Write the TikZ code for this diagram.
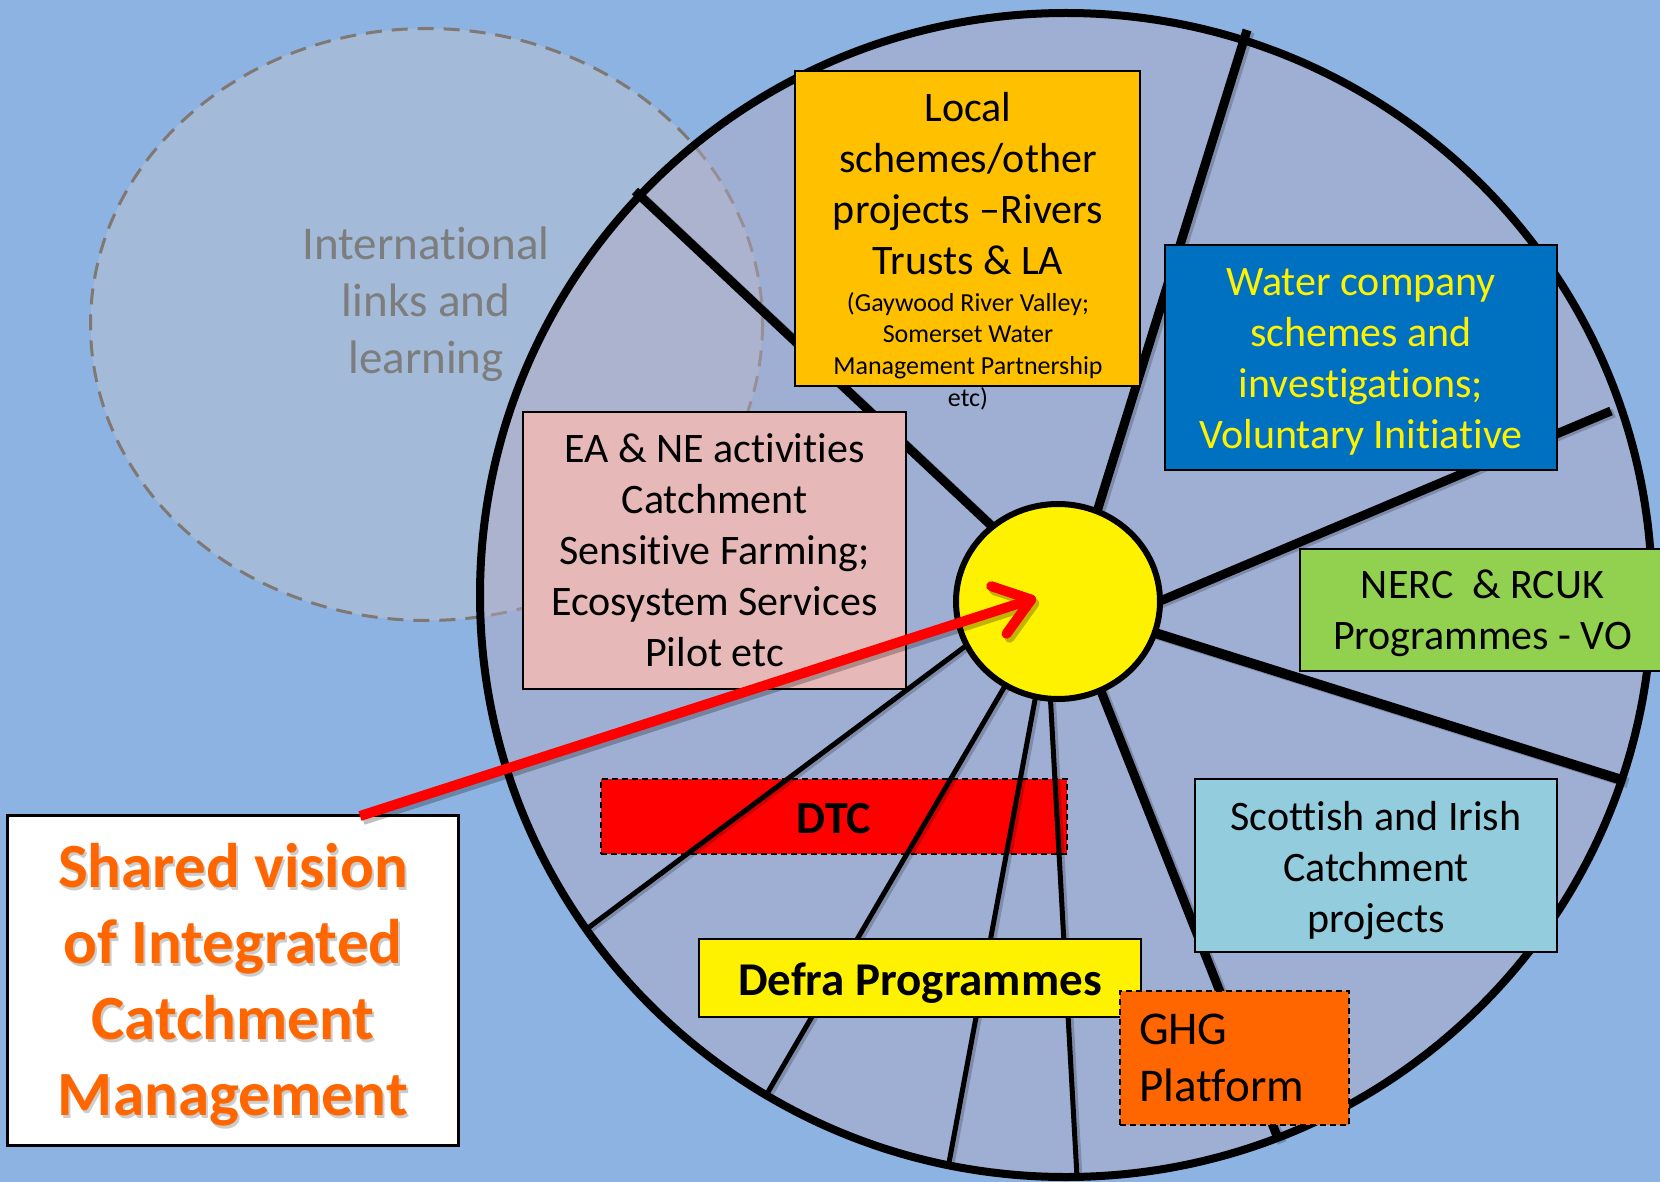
\documentclass[tikz,border=0pt]{standalone}
\usepackage{fontspec}
\setmainfont{Carlito}[Ligatures={TeX,NoCommon}]
\usetikzlibrary{shapes.geometric,arrows.meta,calc}

\definecolor{bgblue}{RGB}{141,179,226}
\definecolor{wheelfill}{RGB}{183,172,195}
\definecolor{intlfill}{RGB}{190,196,208}
\definecolor{intldash}{RGB}{128,120,114}
\definecolor{intltext}{RGB}{125,125,125}
\definecolor{localfill}{RGB}{255,192,0}
\definecolor{waterfill}{RGB}{0,112,192}
\definecolor{eafill}{RGB}{230,185,184}
\definecolor{nercfill}{RGB}{146,208,80}
\definecolor{scotfill}{RGB}{147,205,221}
\definecolor{ghgfill}{RGB}{255,102,0}
\definecolor{visiontext}{RGB}{255,102,0}
\newcommand\tallstrut[1]{\rule{0pt}{#1}}

\begin{document}
\begin{tikzpicture}[x=1pt,y=-1pt,
  box/.style={draw=black, line width=2.5pt, rectangle, inner sep=0pt, align=center},
  dbox/.style={draw=black, line width=2pt, dash pattern=on 6pt off 4pt, rectangle, inner sep=0pt},
  thickspoke/.style={line width=9pt},
  thinspoke/.style={line width=5pt},
  spokeshadow/.style={black, opacity=0.2, transform canvas={shift={(3,2)}}},
  bodytext/.style={font=\fontsize{42}{51}\selectfont},
  bigtext/.style={font=\fontsize{47}{57}\selectfont},
  arrowtip/.style={-{Straight Barb[length=34pt,width=50pt,round]}},
]
% canvas
\useasboundingbox (0,0) rectangle (1660,1182);
\fill[bgblue] (0,0) rectangle (1660,1182);

% international circle
\draw[intldash, line width=3pt, dash pattern=on 16pt off 10pt,
      fill=intlfill, fill opacity=0.45] (426.5,324.5) ellipse [x radius=336, y radius=296];
\node[bigtext, text=intltext, align=center, inner sep=0pt] (intl) at (426,304)
  {International\\links and\\learning};

% wheel
\fill[wheelfill, fill opacity=0.45] (1066,595) ellipse [x radius=586, y radius=582];
\draw[line width=8pt] (1066,595) ellipse [x radius=586, y radius=582];

% DTC box (under the spokes)
\node[dbox, fill=red, minimum width=466pt, minimum height=75pt,
      font=\bfseries\fontsize{46}{55}\selectfont, text height=33pt, text depth=0pt]
      (dtc) at (834,816.5) {DTC};

% spoke end points
\coordinate (in1) at (997,531);   \coordinate (out1) at (635,191);
\coordinate (in2) at (1095,518);  \coordinate (out2) at (1247,30);
\coordinate (in3) at (1153,604);  \coordinate (out3) at (1611,411);
\coordinate (in4) at (1152,632);  \coordinate (out4) at (1625,781);
\coordinate (in5) at (1097,681);  \coordinate (out5) at (1279,1141);
\coordinate (in6) at (1050,691);  \coordinate (out6) at (1077,1177);
\coordinate (in7) at (1037,689);  \coordinate (out7) at (948,1168);
\coordinate (in8) at (1009,679);  \coordinate (out8) at (768,1092);
\coordinate (in9) at (971,642);   \coordinate (out9) at (588,928);

% spoke shadows
\draw[thickspoke, spokeshadow] (in1) -- (out1);
\draw[thickspoke, spokeshadow] (in2) -- (out2);
\draw[thickspoke, spokeshadow] (in3) -- (out3);
\draw[thickspoke, spokeshadow, line width=10pt] (in4) -- (out4);
\draw[thickspoke, spokeshadow] (in5) -- (out5);
\draw[thinspoke, spokeshadow] (in6) -- (out6);
\draw[thinspoke, spokeshadow] (in7) -- (out7);
\draw[thinspoke, spokeshadow] (in8) -- (out8);
\draw[thinspoke, spokeshadow] (in9) -- (out9);
% spokes
\draw[thickspoke] (in1) -- (out1);
\draw[thickspoke] (in2) -- (out2);
\draw[thickspoke] (in3) -- (out3);
\draw[thickspoke, line width=10pt] (in4) -- (out4);
\draw[thickspoke] (in5) -- (out5);
\draw[thinspoke] (in6) -- (out6);
\draw[thinspoke] (in7) -- (out7);
\draw[thinspoke] (in8) -- (out8);
\draw[thinspoke] (in9) -- (out9);

% boxes
\node[box, fill=localfill, minimum width=345pt, minimum height=315pt] (local) at (967.5,228.5) {};
\node[bodytext, align=center, inner sep=0pt] (localtitle) at (968,183.5)
  {Local\\schemes/other\\projects –Rivers\\Trusts \& LA};
\node[font=\fontsize{26}{31.67}\selectfont, align=center, inner sep=0pt] (localnote) at (968,351)
  {(Gaywood River Valley;\\Somerset Water\\Management Partnership\\etc)};

\node[box, fill=waterfill, text=yellow, bodytext, minimum width=392pt, minimum height=225pt]
  (water) at (1361,357.5) {\tallstrut{35pt}Water company\\schemes and\\investigations;\\Voluntary Initiative};

\node[box, fill=eafill, bodytext, minimum width=383pt, minimum height=277pt]
  (ea) at (714.5,550.5) {EA \& NE activities\\Catchment\\Sensitive Farming;\\Ecosystem Services\\Pilot etc};

\node[box, fill=nercfill, bodytext, minimum width=365pt, minimum height=122pt]
  (nerc) at (1482.5,610) {\tallstrut{36pt}NERC\ \ \& RCUK\\Programmes - VO};

\node[box, fill=scotfill, bodytext, minimum width=362pt, minimum height=173pt]
  (scot) at (1376,865.5) {\tallstrut{39pt}Scottish and Irish\\Catchment\\projects};

\node[box, fill=yellow, minimum width=442pt, minimum height=78pt,
      font=\bfseries\fontsize{47}{56}\selectfont, text height=34pt, text depth=0pt]
  (defra) at (920,978) {Defra Programmes};

\node[dbox, fill=ghgfill, bigtext, align=left, text width=191pt, inner xsep=19pt,
      minimum width=229pt, minimum height=134pt]
  (ghg) at (1234.5,1058) {GHG\\Platform};

% hub
\node[ellipse, draw, fill=yellow, line width=6pt, minimum width=204pt, minimum height=195pt,
      inner sep=0pt] (hub) at (1058,601.5) {};

% shared vision box
\node[box, fill=white, line width=3pt, minimum width=451pt, minimum height=330pt] (vision) at (232.5,980) {};
\node[font=\bfseries\fontsize{63}{76}\selectfont, text=black, opacity=0.2, align=center, inner sep=0pt]
  (visionshadow) at (235,987.5) {Shared vision\\of Integrated\\Catchment\\Management};
\node[font=\bfseries\fontsize{63}{76}\selectfont, text=visiontext, align=center, inner sep=0pt]
  (visiontitle) at (233,985) {Shared vision\\of Integrated\\Catchment\\Management};

% arrow
\coordinate (astart) at (360,816);
\coordinate (aend) at (1036,598);
\draw[black, opacity=0.25, line width=10pt, arrowtip, transform canvas={shift={(3,4)}}] (astart) -- (aend);
\draw[red, line width=10pt, arrowtip] (astart) -- (aend);
\end{tikzpicture}
\end{document}
